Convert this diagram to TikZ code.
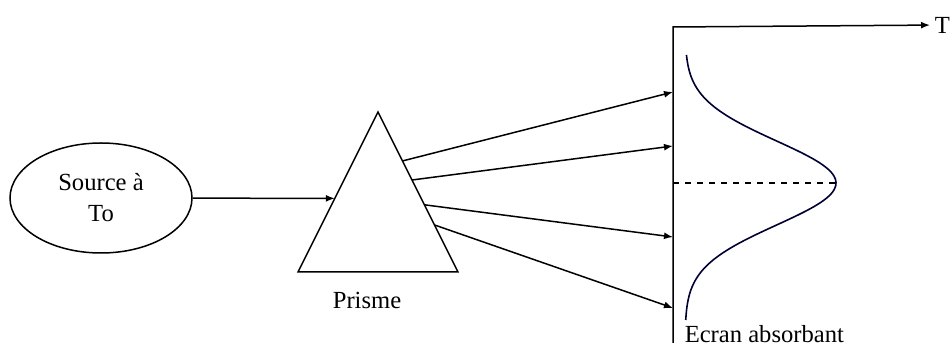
\documentclass[tikz,border=0pt]{standalone}
\usepackage{fontspec}
\setmainfont{Liberation Serif}
\usepackage{tikz}
\usetikzlibrary{arrows.meta,calc,shapes.geometric}

\begin{document}
\begin{tikzpicture}[x=0.5pt, y=-0.5pt, line width=0.75pt, >={Latex[length=4.5pt,width=3.5pt]},
  font=\fontsize{12.3}{15.5}\selectfont]
\useasboundingbox (0,0) rectangle (951,351);

% Source
\node[ellipse, draw, minimum width=91pt, minimum height=55pt, align=center, inner sep=0pt] (src) at (101,198) {Source à\\To};

% Prism
\coordinate (apex) at (378,112);
\coordinate (bl) at (298,272);
\coordinate (br) at (458,272);
\draw (apex) -- (bl) -- (br) -- cycle;
\node[anchor=north] (prisme) at (367,285) {Prisme};
\coordinate (pin) at ($(apex)!0.54!(bl)$);
\draw[->] (src) -- (pin);

% Screen and axis
\coordinate (scrtop) at (673,27);
\coordinate (scrbot) at (673,343);
\node[anchor=west, inner sep=2pt] (T) at (930,25) {T};
\draw[->] (scrbot) -- (scrtop) -- (T);
\node[anchor=north west, inner sep=0pt] (ecran) at (684,325) {Ecran absorbant};

% Dispersed rays
\foreach \t/\yy [count=\i] in {0.306/92, 0.425/146, 0.58/237, 0.706/308} {
  \coordinate (out\i) at ($(apex)!\t!(br)$);
  \coordinate (hit\i) at (673,\yy);
  \draw[->] (out\i) -- (hit\i);
}

% Intensity profile
\coordinate (peak) at (836,183);
\coordinate (mid) at (673,183);
\draw[dashed] (mid) -- (peak);
\draw[color=black!80!blue, line width=0.8pt] plot[domain=55:320, samples=80, smooth, variable=\y]
  ({685+151*exp(-((\y-183)/42)*((\y-183)/42)/2)}, \y);
\end{tikzpicture}
\end{document}
